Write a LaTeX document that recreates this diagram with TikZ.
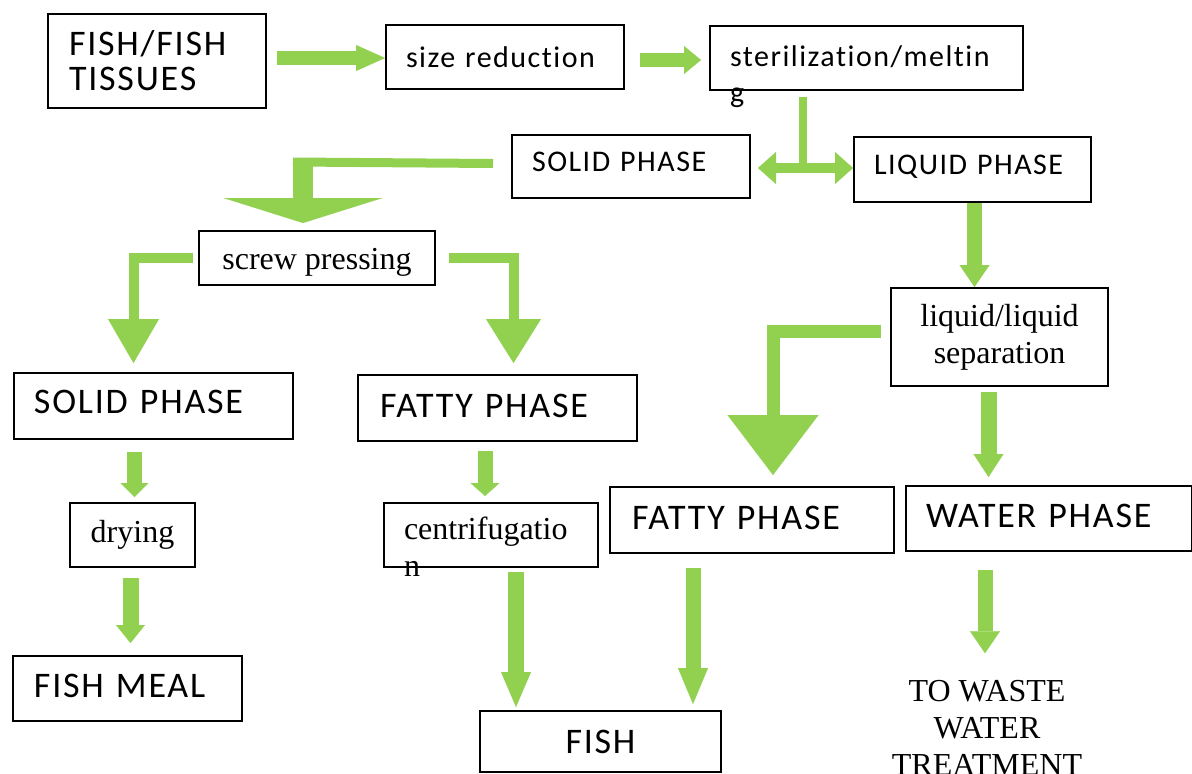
\documentclass[tikz,border=0pt]{standalone}
\usepackage{fontspec}
\setmainfont{Liberation Serif}
\setsansfont{Carlito}[LetterSpace=5,Ligatures=NoCommon]
\usetikzlibrary{arrows.meta,calc}
\definecolor{leafgreen}{HTML}{92D050}
\newcommand\bigsans{\sffamily\fontsize{36}{35}\selectfont}
\newcommand\smallsans{\sffamily\fontsize{30}{36}\selectfont}
\newcommand\serifed{\rmfamily\fontsize{32}{37}\selectfont}
\tikzset{
  stage/.style={draw, line width=2pt, anchor=north west, inner ysep=0pt, align=left},
  flow/.style={draw=leafgreen, line width=#1, line join=miter},
  blockhead/.style 2 args={-{Triangle[length=#1, width=#2, line width=0.1pt]}},
}
\begin{document}
\begin{tikzpicture}[x=1pt,y=-1pt]
\useasboundingbox (0,0) rectangle (1192,774);
  \node (tissue) at (47,13) [stage,minimum height=94pt,text width=176pt,inner xsep=21pt,font=\bigsans] {FISH/FISH\\TISSUES};
  \node (sizing) at (385,24) [stage,minimum height=64pt,text width=198pt,inner xsep=20pt,font=\smallsans] {size reduction};
  \node (melting) at (709,25) [stage,text height=40pt,text depth=24pt,text width=273pt,inner xsep=20pt,font=\smallsans] {sterilization/meltin\\g};
  \node (solidtop) at (511,134) [stage,minimum height=63pt,text depth=10pt,text width=198pt,inner xsep=20pt,font=\smallsans] {SOLID PHASE};
  \node (liquid) at (853,136) [stage,minimum height=65pt,text depth=10pt,text width=197pt,inner xsep=20pt,font=\smallsans] {LIQUID PHASE};
  \node (press) at (198,230) [stage,minimum width=236pt,minimum height=54pt,text height=29pt,font=\serifed] {screw pressing};
  \node (solidleft) at (13,372) [stage,minimum height=66pt,text depth=8pt,text width=239pt,inner xsep=20pt,font=\bigsans] {SOLID PHASE};
  \node (fattymid) at (357,374) [stage,minimum height=66pt,text depth=5pt,text width=235pt,inner xsep=22pt,font=\bigsans] {FATTY PHASE};
  \node (drying) at (69,502) [stage,minimum width=125pt,minimum height=64pt,font=\serifed] {drying};
  \node (meal) at (12,655) [stage,minimum height=65pt,text depth=5pt,text width=187pt,inner xsep=21pt,font=\bigsans] {FISH MEAL};
  \node (centri) at (383,502) [stage,text height=36pt,text depth=28pt,text width=174pt,inner xsep=20pt,font=\serifed] {centrifugatio\\n};
  \node (fish) at (479,710) [stage,minimum width=241pt,minimum height=61pt,font=\bigsans] {FISH};
  \node (separation) at (890,287) [stage,align=center,minimum width=217pt,minimum height=98pt,font=\serifed] {liquid/liquid\\separation};
  \node (fattyright) at (609,486) [stage,minimum height=66pt,text depth=5pt,text width=240pt,inner xsep=22pt,font=\bigsans] {FATTY PHASE};
  \node (water) at (905,485) [stage,minimum height=65pt,text depth=5pt,text width=246pt,inner xsep=20pt,font=\bigsans] {WATER PHASE};
  \node (waste) at (987,728) [align=center,inner sep=0pt,font=\serifed] {TO WASTE\\WATER\\TREATMENT};
  \coordinate (split) at (803,168);

  \draw [flow=14pt,blockhead={29pt}{26pt}] ($(tissue.east |- sizing.west)+(10,1)$) -- ($(sizing.west)+(0,1)$);
  \draw [flow=14pt,blockhead={17pt}{28pt}] ($(sizing.east)+(15,3)$) -- ($(melting.west |- sizing.east)+(-8,3)$);
  \draw [flow=8pt] ($(melting.south -| split)+(0,6)$) -- (split);
  \draw [flow=10pt,{Triangle[length=18pt,width=32pt,line width=0.1pt]}-{Triangle[length=18pt,width=32pt,line width=0.1pt]}] ($(solidtop.east |- split)+(7,0)$) -- (liquid.west |- split);
  \draw [flow=9pt] ($(solidtop.west)+(-18,-3)$) -- ($(press.north)+(-24,-68)$);
  \draw [flow=20pt,blockhead={25pt}{159pt}] ($(press.north)+(-14,-72)$) -- ($(press.north)+(-14,-7)$);
  \draw [flow=10pt,blockhead={44pt}{51pt}] ($(press.west)+(-5,0)$) -| ($(solidleft.north)+(-20,-9)$);
  \draw [flow=10pt,blockhead={44pt}{55pt}] ($(press.east)+(13,0)$) -| ($(fattymid.north)+(16,-11)$);
  \draw [flow=15pt,blockhead={14pt}{28pt}] ($(solidleft.south -| drying.north)+(2,12)$) -- ($(drying.north)+(2,-5)$);
  \draw [flow=16pt,blockhead={18pt}{29pt}] ($(drying.south)+(-2,10)$) -- ($(drying.south |- meal.north)+(-2,-12)$);
  \draw [flow=15pt,blockhead={13pt}{29pt}] ($(fattymid.south -| centri.north)+(-6,9)$) -- ($(centri.north)+(-6,-6)$);
  \draw [flow=16pt,blockhead={35pt}{30pt}] ($(centri.south)+(25,4)$) -- ($(centri.south |- fish.north)+(25,-3)$);
  \draw [flow=15pt,blockhead={22pt}{30pt}] ($(liquid.south)+(2,0)$) -- ($(liquid.south |- separation.north)+(2,0)$);
  \draw [flow=13pt,blockhead={60pt}{91pt}] ($(separation.west)+(-9,-6)$) -| ($(fattyright.north)+(21,-11)$);
  \draw [flow=16pt,blockhead={23pt}{30pt}] ($(separation.south)+(-11,5)$) -- ($(separation.south |- water.north)+(-11,-8)$);
  \draw [flow=15pt,blockhead={36pt}{30pt}] ($(fattyright.south)+(-59,14)$) -- ($(fattyright.south |- fish.north)+(-59,-6)$);
  \draw [flow=15pt,blockhead={22pt}{30pt}] ($(water.south -| waste.north)+(-2,18)$) -- ($(waste.north)+(-2,-27)$);
\end{tikzpicture}
\end{document}
